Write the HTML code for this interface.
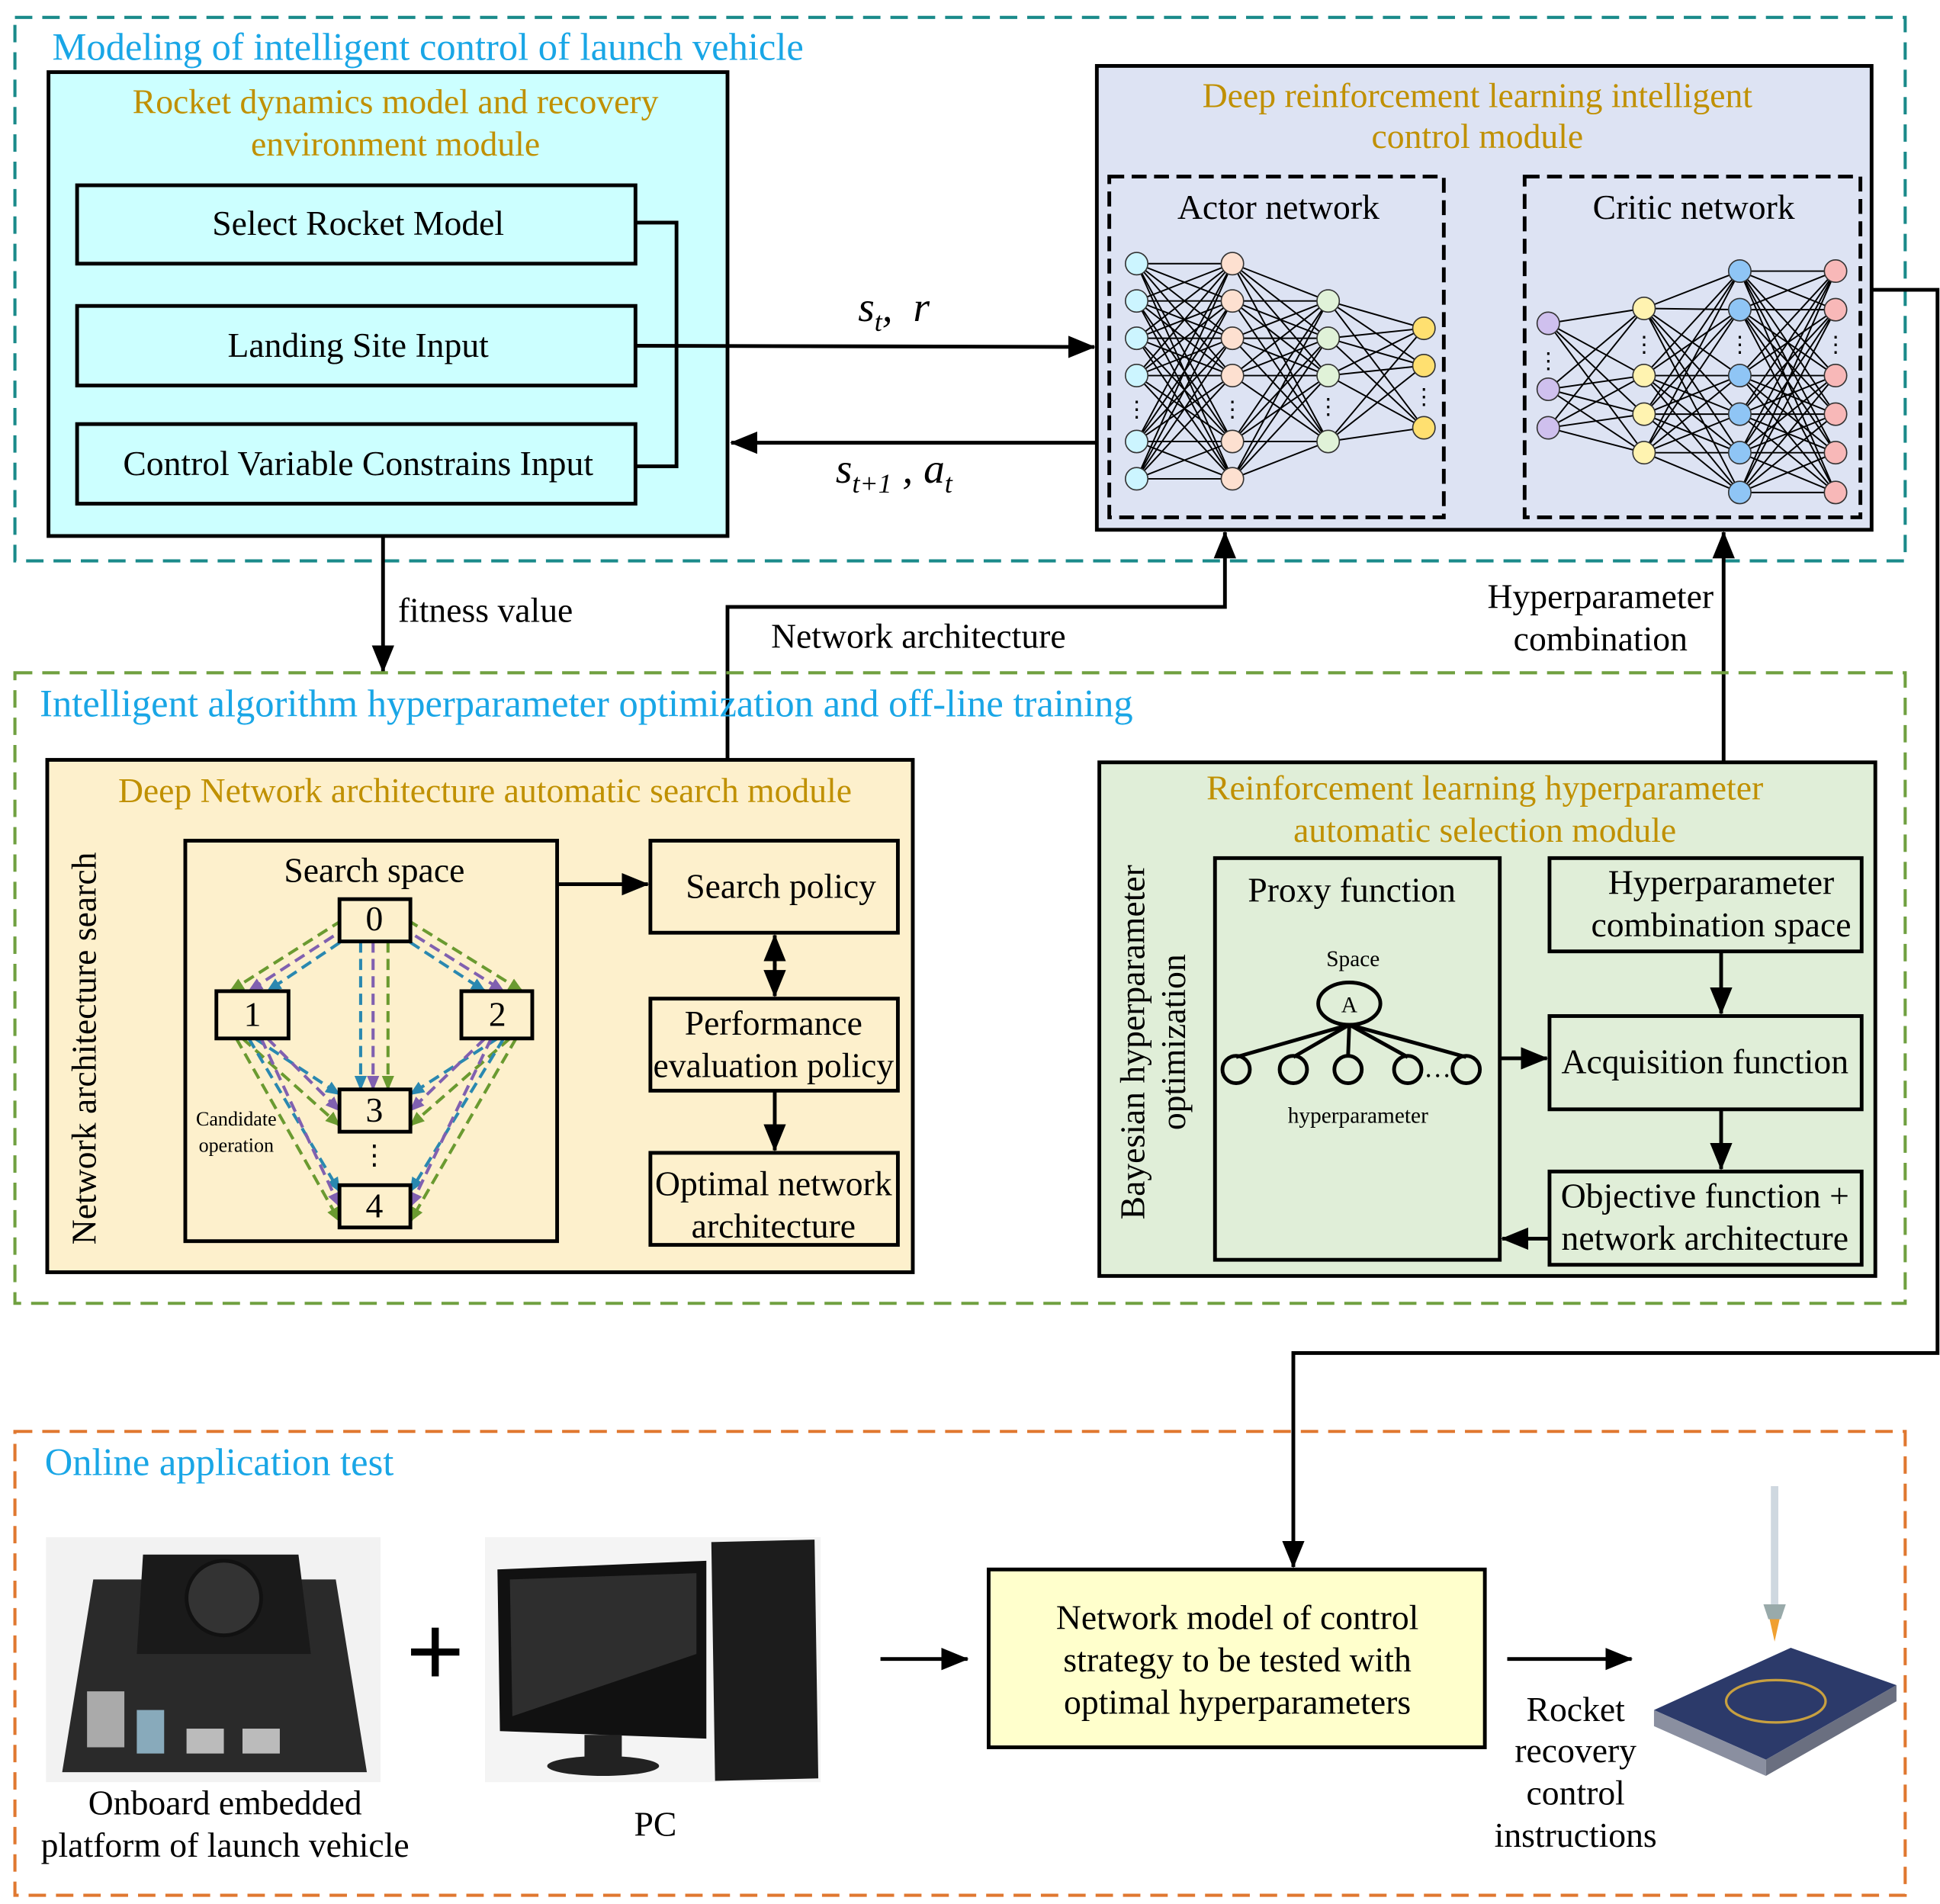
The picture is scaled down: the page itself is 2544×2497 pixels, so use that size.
<!DOCTYPE html>
<html><head><meta charset="utf-8"><style>
html,body{margin:0;padding:0;background:#fff}
svg{display:block}
text{font-family:"Liberation Serif",serif;fill:#000}
.t{font-size:28px}
.g{fill:#c09000;font-size:28px}
.b{fill:#19a6e6;font-size:31px}
</style></head><body>
<svg width="2544" height="2497" viewBox="0 0 1560 1531" preserveAspectRatio="none" xmlns="http://www.w3.org/2000/svg">
<defs>
<marker id="A" markerWidth="22" markerHeight="18" refX="21" refY="9" orient="auto" markerUnits="userSpaceOnUse"><path d="M0,0 L22,9 L0,18z" fill="#000"/></marker>
<marker id="mg" markerWidth="12" markerHeight="10" refX="11" refY="5" orient="auto" markerUnits="userSpaceOnUse"><path d="M0,0 L12,5 L0,10z" fill="#6a9a30"/></marker>
<marker id="mp" markerWidth="12" markerHeight="10" refX="11" refY="5" orient="auto" markerUnits="userSpaceOnUse"><path d="M0,0 L12,5 L0,10z" fill="#8060b0"/></marker>
<marker id="mt" markerWidth="12" markerHeight="10" refX="11" refY="5" orient="auto" markerUnits="userSpaceOnUse"><path d="M0,0 L12,5 L0,10z" fill="#2a88b0"/></marker>
</defs>

<rect x="12" y="14" width="1520" height="437" fill="none" stroke="#1a8a8a" stroke-width="2.5" stroke-dasharray="14,8"/>
<text x="42" y="48" class="b">Modeling of intelligent control of launch vehicle</text>

<rect x="39" y="58" width="546" height="373" fill="#ccffff" stroke="#000" stroke-width="3"/>
<text x="318" y="91" class="g" text-anchor="middle">Rocket dynamics model and recovery</text>
<text x="318" y="125" class="g" text-anchor="middle">environment module</text>
<rect x="62" y="149" width="449" height="63" fill="#ccffff" stroke="#000" stroke-width="3"/>
<rect x="62" y="246" width="449" height="64" fill="#ccffff" stroke="#000" stroke-width="3"/>
<rect x="62" y="341" width="449" height="64" fill="#ccffff" stroke="#000" stroke-width="3"/>
<text x="288" y="189" class="t" text-anchor="middle">Select Rocket Model</text>
<text x="288" y="287" class="t" text-anchor="middle">Landing Site Input</text>
<text x="288" y="382" class="t" text-anchor="middle">Control Variable Constrains Input</text>
<polyline points="511,179 544,179 544,375 511,375" fill="none" stroke="#000" stroke-width="3"/>
<line x1="511" y1="278" x2="880" y2="279" stroke="#000" stroke-width="3" marker-end="url(#A)"/>
<line x1="882" y1="356" x2="588" y2="356" stroke="#000" stroke-width="3" marker-end="url(#A)"/>
<text x="690" y="258" font-size="34" font-style="italic">s<tspan font-size="22" dy="8">t</tspan><tspan dy="-8">, </tspan><tspan dx="8">r</tspan></text>
<text x="672" y="388" font-size="34" font-style="italic">s<tspan font-size="22" dy="8">t+1</tspan><tspan dy="-8"> , </tspan>a<tspan font-size="22" dy="8">t</tspan></text>

<rect x="882" y="53" width="623" height="373" fill="#dde3f3" stroke="#000" stroke-width="3"/>
<text x="1188" y="86" class="g" text-anchor="middle">Deep reinforcement learning intelligent</text>
<text x="1188" y="119" class="g" text-anchor="middle">control module</text>
<rect x="892" y="142" width="269" height="274" fill="none" stroke="#000" stroke-width="3" stroke-dasharray="12,6"/>
<rect x="1226" y="142" width="270" height="274" fill="none" stroke="#000" stroke-width="3" stroke-dasharray="12,6"/>
<text x="1028" y="176" class="t" text-anchor="middle">Actor network</text>
<text x="1362" y="176" class="t" text-anchor="middle">Critic network</text>
<g id="nets" stroke="#000" stroke-width="1.2"></g>
<g id="nodes"></g>

<polyline points="1505,233 1558,233 1558,1088 1040,1088 1040,1260" fill="none" stroke="#000" stroke-width="3" marker-end="url(#A)"/>

<line x1="308" y1="431" x2="308" y2="540" stroke="#000" stroke-width="3" marker-end="url(#A)"/>
<text x="320" y="500" class="t">fitness value</text>
<polyline points="585,610 585,488 985,488 985,428" fill="none" stroke="#000" stroke-width="3" marker-end="url(#A)"/>
<text x="620" y="521" class="t">Network architecture</text>
<line x1="1386" y1="612" x2="1386" y2="428" stroke="#000" stroke-width="3" marker-end="url(#A)"/>
<text x="1287" y="489" class="t" text-anchor="middle">Hyperparameter</text>
<text x="1287" y="523" class="t" text-anchor="middle">combination</text>

<rect x="12" y="541" width="1520" height="507" fill="none" stroke="#70a040" stroke-width="2.5" stroke-dasharray="14,8"/>
<text x="32" y="576" class="b">Intelligent algorithm hyperparameter optimization and off-line training</text>

<rect x="38" y="611" width="696" height="412" fill="#fdf0cc" stroke="#000" stroke-width="3"/>
<text x="390" y="645" class="g" text-anchor="middle">Deep Network architecture automatic search module</text>
<text transform="translate(77,843) rotate(-90)" class="t" text-anchor="middle">Network architecture search</text>
<rect x="149" y="676" width="299" height="322" fill="none" stroke="#000" stroke-width="3"/>
<text x="301" y="709" class="t" text-anchor="middle">Search space</text>
<g stroke-width="2.5" stroke-dasharray="9,5" fill="none">
<line x1="275" y1="740" x2="185" y2="797" stroke="#6a9a30" marker-end="url(#mg)"/>
<line x1="280" y1="745" x2="200" y2="797" stroke="#8060b0" marker-end="url(#mp)"/>
<line x1="285" y1="750" x2="215" y2="797" stroke="#2a88b0" marker-end="url(#mt)"/>
<line x1="328" y1="740" x2="420" y2="797" stroke="#6a9a30" marker-end="url(#mg)"/>
<line x1="322" y1="745" x2="405" y2="797" stroke="#8060b0" marker-end="url(#mp)"/>
<line x1="318" y1="750" x2="390" y2="797" stroke="#2a88b0" marker-end="url(#mt)"/>
<line x1="290" y1="757" x2="290" y2="876" stroke="#2a88b0" marker-end="url(#mt)"/>
<line x1="300" y1="757" x2="300" y2="876" stroke="#8060b0" marker-end="url(#mp)"/>
<line x1="312" y1="757" x2="312" y2="876" stroke="#6a9a30" marker-end="url(#mg)"/>
<line x1="205" y1="835" x2="273" y2="880" stroke="#2a88b0" marker-end="url(#mt)"/>
<line x1="215" y1="835" x2="273" y2="893" stroke="#8060b0" marker-end="url(#mp)"/>
<line x1="195" y1="835" x2="273" y2="905" stroke="#6a9a30" marker-end="url(#mg)"/>
<line x1="400" y1="835" x2="330" y2="880" stroke="#2a88b0" marker-end="url(#mt)"/>
<line x1="390" y1="835" x2="330" y2="893" stroke="#8060b0" marker-end="url(#mp)"/>
<line x1="410" y1="835" x2="330" y2="905" stroke="#6a9a30" marker-end="url(#mg)"/>
<line x1="200" y1="835" x2="273" y2="958" stroke="#2a88b0" marker-end="url(#mt)"/>
<line x1="210" y1="835" x2="273" y2="970" stroke="#8060b0" marker-end="url(#mp)"/>
<line x1="190" y1="835" x2="273" y2="982" stroke="#6a9a30" marker-end="url(#mg)"/>
<line x1="405" y1="835" x2="330" y2="958" stroke="#2a88b0" marker-end="url(#mt)"/>
<line x1="395" y1="835" x2="330" y2="970" stroke="#8060b0" marker-end="url(#mp)"/>
<line x1="415" y1="835" x2="330" y2="982" stroke="#6a9a30" marker-end="url(#mg)"/>
</g>
<g fill="#fdf0cc" stroke="#000" stroke-width="3">
<rect x="273" y="723" width="57" height="34"/><rect x="174" y="797" width="58" height="38"/>
<rect x="371" y="797" width="57" height="38"/><rect x="273" y="876" width="57" height="34"/>
<rect x="273" y="953" width="57" height="34"/>
</g>
<text x="301" y="748" class="t" text-anchor="middle">0</text>
<text x="203" y="825" class="t" text-anchor="middle">1</text>
<text x="400" y="825" class="t" text-anchor="middle">2</text>
<text x="301" y="902" class="t" text-anchor="middle">3</text>
<text x="301" y="936" font-size="22" text-anchor="middle">⋮</text>
<text x="301" y="979" class="t" text-anchor="middle">4</text>
<text x="190" y="905" font-size="16" text-anchor="middle">Candidate</text>
<text x="190" y="926" font-size="16" text-anchor="middle">operation</text>

<g fill="#fdf0cc" stroke="#000" stroke-width="3">
<rect x="523" y="676" width="199" height="74"/><rect x="523" y="803" width="199" height="74"/><rect x="523" y="927" width="199" height="74"/>
</g>
<text x="628" y="722" class="t" text-anchor="middle">Search policy</text>
<text x="622" y="832" class="t" text-anchor="middle">Performance</text>
<text x="622" y="866" class="t" text-anchor="middle">evaluation policy</text>
<text x="622" y="961" class="t" text-anchor="middle">Optimal network</text>
<text x="622" y="995" class="t" text-anchor="middle">architecture</text>
<line x1="448" y1="711" x2="521" y2="711" stroke="#000" stroke-width="3" marker-end="url(#A)"/>
<line x1="623" y1="775" x2="623" y2="801" stroke="#000" stroke-width="3" marker-end="url(#A)"/>
<line x1="623" y1="777" x2="623" y2="752" stroke="#000" stroke-width="3" marker-end="url(#A)"/>
<line x1="623" y1="877" x2="623" y2="925" stroke="#000" stroke-width="3" marker-end="url(#A)"/>

<rect x="884" y="613" width="624" height="413" fill="#e0eed8" stroke="#000" stroke-width="3"/>
<text x="1194" y="643" class="g" text-anchor="middle">Reinforcement learning hyperparameter</text>
<text x="1194" y="677" class="g" text-anchor="middle">automatic selection module</text>
<text transform="translate(920,838) rotate(-90)" class="t" text-anchor="middle">Bayesian hyperparameter</text>
<text transform="translate(953,838) rotate(-90)" class="t" text-anchor="middle">optimization</text>
<rect x="977" y="690" width="229" height="323" fill="none" stroke="#000" stroke-width="3"/>
<text x="1087" y="725" class="t" text-anchor="middle">Proxy function</text>
<text x="1088" y="777" font-size="18" text-anchor="middle">Space</text>
<g stroke="#000" stroke-width="3" fill="none">
<line x1="1085" y1="824" x2="994" y2="850"/><line x1="1085" y1="824" x2="1040" y2="850"/><line x1="1085" y1="824" x2="1084" y2="849"/>
<line x1="1085" y1="824" x2="1132" y2="850"/><line x1="1085" y1="824" x2="1179" y2="850"/>
<ellipse cx="1085" cy="807" rx="25" ry="17" fill="#e0eed8"/>
<circle cx="994" cy="860" r="11"/><circle cx="1040" cy="860" r="11"/><circle cx="1084" cy="860" r="11"/><circle cx="1132" cy="860" r="11"/><circle cx="1179" cy="860" r="11"/>
</g>
<text x="1085" y="814" font-size="18" text-anchor="middle">A</text>
<text x="1156" y="866" font-size="22" text-anchor="middle">…</text>
<text x="1092" y="903" font-size="18" text-anchor="middle">hyperparameter</text>
<g fill="none" stroke="#000" stroke-width="3">
<rect x="1246" y="690" width="251" height="75"/><rect x="1246" y="817" width="251" height="75"/><rect x="1246" y="942" width="251" height="75"/>
</g>
<text x="1384" y="719" class="t" text-anchor="middle">Hyperparameter</text>
<text x="1384" y="753" class="t" text-anchor="middle">combination space</text>
<text x="1371" y="863" class="t" text-anchor="middle">Acquisition function</text>
<text x="1371" y="971" class="t" text-anchor="middle">Objective function +</text>
<text x="1371" y="1005" class="t" text-anchor="middle">network architecture</text>
<line x1="1384" y1="765" x2="1384" y2="815" stroke="#000" stroke-width="3" marker-end="url(#A)"/>
<line x1="1384" y1="892" x2="1384" y2="940" stroke="#000" stroke-width="3" marker-end="url(#A)"/>
<line x1="1206" y1="851" x2="1244" y2="851" stroke="#000" stroke-width="3" marker-end="url(#A)"/>
<line x1="1246" y1="996" x2="1208" y2="996" stroke="#000" stroke-width="3" marker-end="url(#A)"/>

<rect x="12" y="1151" width="1520" height="373" fill="none" stroke="#e07830" stroke-width="2.5" stroke-dasharray="14,8"/>
<text x="36" y="1186" class="b">Online application test</text>

<rect x="37" y="1236" width="269" height="197" fill="#f2f2f2"/>
<polygon points="75,1270 270,1270 295,1425 50,1425" fill="#2a2a2a"/>
<polygon points="115,1250 240,1250 250,1330 110,1330" fill="#1a1a1a"/>
<circle cx="180" cy="1285" r="30" fill="#333" stroke="#111" stroke-width="3"/>
<rect x="70" y="1360" width="30" height="45" fill="#aaa"/><rect x="110" y="1375" width="22" height="35" fill="#8ab"/>
<rect x="150" y="1390" width="30" height="20" fill="#bbb"/><rect x="195" y="1390" width="30" height="20" fill="#bbb"/>
<text x="181" y="1459" class="t" text-anchor="middle">Onboard embedded</text>
<text x="181" y="1493" class="t" text-anchor="middle">platform of launch vehicle</text>
<text x="350" y="1355" font-size="80" text-anchor="middle" style="font-family:'Liberation Sans',sans-serif">+</text>

<rect x="390" y="1236" width="270" height="197" fill="#f4f4f4"/>
<polygon points="400,1262 568,1255 568,1398 402,1392" fill="#111"/>
<polygon points="410,1270 560,1265 560,1330 412,1380" fill="#2e2e2e"/>
<rect x="470" y="1395" width="30" height="20" fill="#222"/><ellipse cx="485" cy="1420" rx="45" ry="8" fill="#222"/>
<polygon points="572,1240 655,1238 658,1430 575,1432" fill="#1c1c1c"/>
<text x="527" y="1476" class="t" text-anchor="middle">PC</text>

<line x1="708" y1="1334" x2="778" y2="1334" stroke="#000" stroke-width="3" marker-end="url(#A)"/>
<rect x="795" y="1262" width="399" height="143" fill="#ffffcc" stroke="#000" stroke-width="3"/>
<text x="995" y="1310" class="t" text-anchor="middle">Network model of control</text>
<text x="995" y="1344" class="t" text-anchor="middle">strategy to be tested with</text>
<text x="995" y="1378" class="t" text-anchor="middle">optimal hyperparameters</text>
<line x1="1212" y1="1334" x2="1312" y2="1334" stroke="#000" stroke-width="3" marker-end="url(#A)"/>
<text x="1267" y="1384" class="t" text-anchor="middle">Rocket</text>
<text x="1267" y="1417" class="t" text-anchor="middle">recovery</text>
<text x="1267" y="1451" class="t" text-anchor="middle">control</text>
<text x="1267" y="1485" class="t" text-anchor="middle">instructions</text>

<rect x="1424" y="1195" width="6" height="95" fill="#cfd8e0"/>
<polygon points="1418,1290 1436,1290 1432,1302 1422,1302" fill="#9aa"/>
<polygon points="1423,1302 1431,1302 1427,1320" fill="#f0a030"/>
<polygon points="1330,1375 1440,1325 1525,1355 1420,1415" fill="#2c3a6a"/>
<polygon points="1330,1375 1420,1415 1420,1428 1330,1388" fill="#8a8fa0"/>
<polygon points="1420,1415 1525,1355 1525,1368 1420,1428" fill="#6a6f80"/>
<ellipse cx="1428" cy="1368" rx="40" ry="17" fill="none" stroke="#c8a040" stroke-width="2"/>
</svg>
<script>
(function(){
var ns="http://www.w3.org/2000/svg";
var L=document.getElementById('nets'),N=document.getElementById('nodes');
function net(layers){
 for(var i=0;i<layers.length-1;i++){var a=layers[i],b=layers[i+1];
  a.ys.forEach(function(y1){b.ys.forEach(function(y2){var l=document.createElementNS(ns,'line');
   l.setAttribute('x1',a.x);l.setAttribute('y1',y1);l.setAttribute('x2',b.x);l.setAttribute('y2',y2);L.appendChild(l);});});}
 layers.forEach(function(a){a.ys.forEach(function(y){var c=document.createElementNS(ns,'circle');
  c.setAttribute('cx',a.x);c.setAttribute('cy',y);c.setAttribute('r',9);c.setAttribute('fill',a.c);c.setAttribute('stroke','#333');c.setAttribute('stroke-width','1');N.appendChild(c);});
  if(a.d){var t=document.createElementNS(ns,'text');t.setAttribute('x',a.x);t.setAttribute('y',a.d);t.setAttribute('font-size','18');t.setAttribute('text-anchor','middle');t.textContent='⋮';N.appendChild(t);}
 });
}
net([{x:914,ys:[212,242,272,302,355,385],c:'#ccf5ff',d:335},
 {x:991,ys:[212,242,272,302,355,385],c:'#fde0d0',d:335},
 {x:1068,ys:[242,272,302,355],c:'#e0f2d8',d:333},
 {x:1145,ys:[264,294,344],c:'#ffe070',d:325}]);
net([{x:1245,ys:[260,313,344],c:'#cfc0ee',d:296},
 {x:1322,ys:[248,302,333,364],c:'#fff3b0',d:283},
 {x:1399,ys:[218,249,302,333,364,396],c:'#8fc5f5',d:283},
 {x:1476,ys:[218,249,302,333,364,396],c:'#f8b8b8',d:283}]);
})();
</script>
</body></html>
